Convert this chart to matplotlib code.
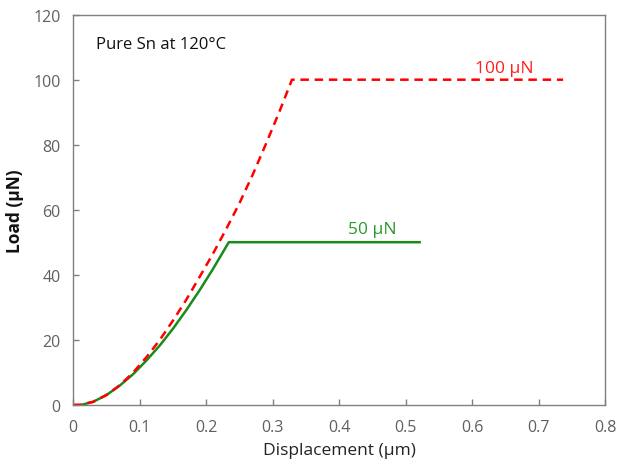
import matplotlib
matplotlib.use("Agg")
import matplotlib.pyplot as plt

plt.rcParams['font.family'] = ['Open Sans', 'DejaVu Sans']

# 100 uN curve (red dashed)
x_100 = [0.0, 0.01, 0.03, 0.05, 0.07, 0.09, 0.11, 0.13, 0.15, 0.17, 0.19,
         0.21, 0.23, 0.25, 0.27, 0.29, 0.31, 0.329, 0.737]
y_100 = [0.0, 0.0, 0.9, 3.0, 6.0, 9.9, 14.6, 19.9, 25.9, 32.3, 39.3,
         46.4, 54.0, 62.0, 70.8, 80.3, 90.1, 100.0, 100.0]

# 50 uN curve (green solid)
x_50 = [0.013, 0.03, 0.05, 0.07, 0.09, 0.11, 0.13, 0.15, 0.17, 0.19,
        0.21, 0.234, 0.523]
y_50 = [0.0, 0.9, 3.0, 5.9, 9.4, 13.6, 18.2, 23.4, 29.1, 35.2,
        41.7, 50.0, 50.0]

x_ticks = [0, 0.1, 0.2, 0.3, 0.4, 0.5, 0.6, 0.7, 0.8]
x_tick_labels = ["0", "0.1", "0.2", "0.3", "0.4", "0.5", "0.6", "0.7", "0.8"]
y_ticks = [0, 20, 40, 60, 80, 100, 120]

fig = plt.figure(figsize=(6.17, 4.64), dpi=100)
ax = fig.add_axes([0.1188, 0.1256, 0.8617, 0.8406])

ax.plot(x_50, y_50, color='#1a8a1a', lw=1.8, solid_capstyle='butt')
ax.plot(x_100, y_100, color='#ff0000', lw=1.8, dashes=(3.4, 2.3))

ax.set_xlim(0, 0.8)
ax.set_ylim(0, 120)
ax.set_xticks(x_ticks)
ax.set_xticklabels(x_tick_labels)
ax.set_yticks(y_ticks)

grey = '#808080'
for s in ax.spines.values():
    s.set_color(grey)
    s.set_linewidth(1.0)
ax.tick_params(direction='in', length=4, width=1.0, color=grey,
               labelcolor='#606060', labelsize=11.5)
ax.tick_params(axis='x', pad=10)
ax.tick_params(axis='y', pad=9)

ax.set_xlabel("Displacement (μm)", fontsize=12.5, color='#222222', labelpad=5)
ax.set_ylabel("Load (μN)", fontsize=12.5, fontweight='bold', color='#111111', labelpad=7)

ax.text(0.034, 111, "Pure Sn at 120°C", fontsize=12, color='#111111', va='center')
ax.text(0.604, 103.6, "100 μN", fontsize=12.5, color='#ff2020', va='center')
ax.text(0.413, 54, "50 μN", fontsize=12.5, color='#2a9a2a', va='center')

fig.savefig("out.png", dpi=100)
